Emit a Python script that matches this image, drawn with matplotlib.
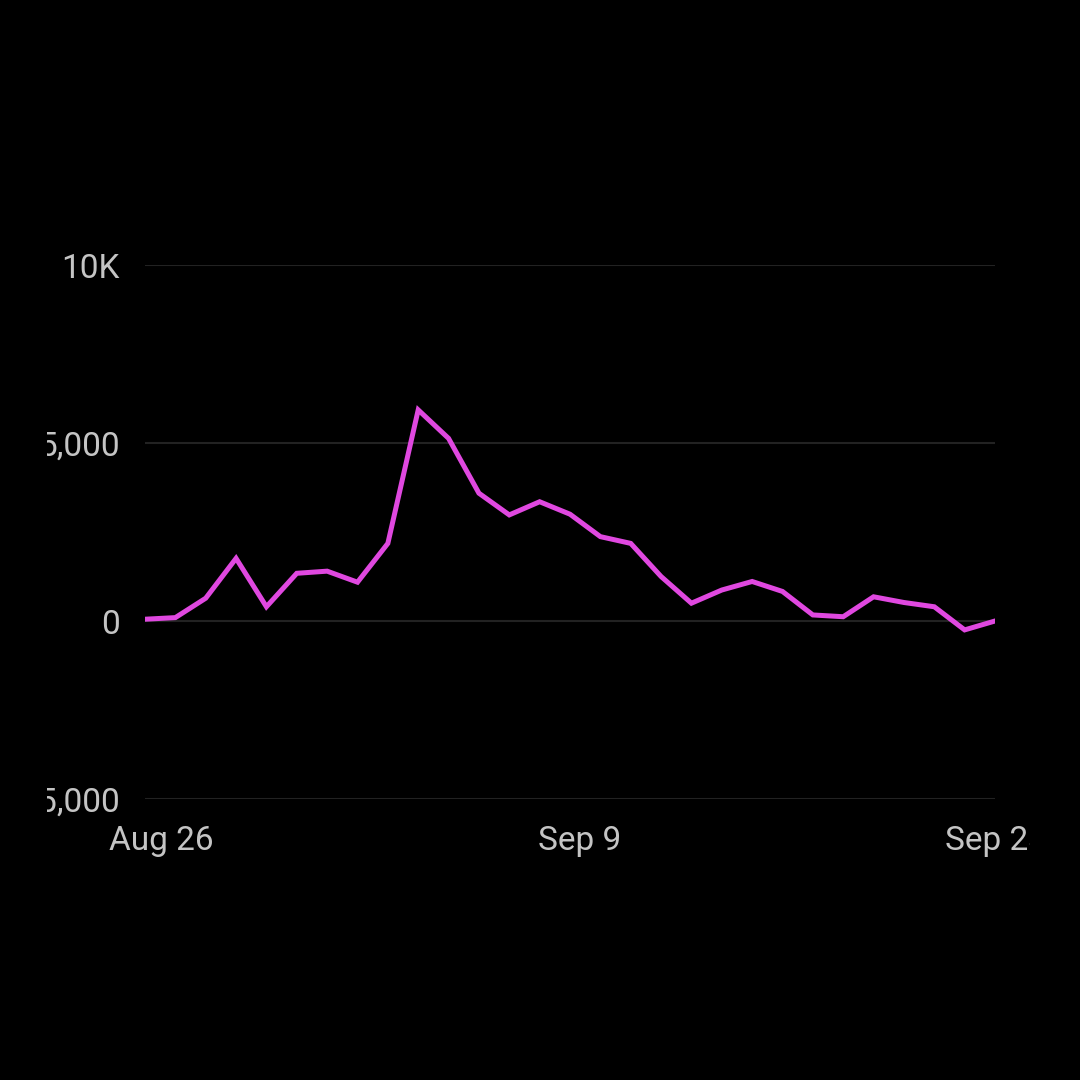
import numpy as np
import pandas as pd
import matplotlib
matplotlib.use("Agg")
import matplotlib.pyplot as plt
import matplotlib.dates as mdates
from matplotlib.ticker import FixedLocator, FuncFormatter
from matplotlib.transforms import Bbox, ScaledTranslation

# daily values, Aug 26 .. Sep 23
start = "2024-08-26"
values = [50, 95, 640, 1760, 400, 1340, 1400, 1090, 2180, 5930,
          5130, 3590, 2980, 3350, 3000, 2370, 2180, 1250, 500, 870,
          1110, 830, 170, 120, 680, 520, 400, -250, 0]
y_ticks = [-5000, 0, 5000, 10000]
x_tick_dates = ["2024-08-26", "2024-09-09", "2024-09-23"]

dates = pd.date_range(start, periods=len(values), freq="D")

BG = "black"
TXT = "#c4c4c4"
GRID = "#222222"
LINE = "#e048e0"

plt.rcParams["font.family"] = ["Roboto", "DejaVu Sans"]

fig = plt.figure(figsize=(10.8, 10.8), dpi=100, facecolor=BG)
ax = fig.add_axes([145/1080, 1 - 799/1080, (995 - 145)/1080, (799 - 265)/1080])
ax.set_facecolor(BG)

ax.plot(dates, values, color=LINE, lw=3.6, solid_joinstyle="miter", zorder=3)

ax.set_ylim(-5000, 10000)
ax.set_xlim(dates[0], dates[-1])
ax.yaxis.set_major_locator(FixedLocator(y_ticks))

def yfmt(v, _):
    if abs(v) >= 10000:
        return f"{int(v/1000)}K"
    return f"{int(v):,}".replace("-", "\u2212")

ax.yaxis.set_major_formatter(FuncFormatter(yfmt))
ax.set_xticks(pd.to_datetime(x_tick_dates))
ax.xaxis.set_major_formatter(mdates.DateFormatter("%b %-d"))

ax.grid(axis="y", color=GRID, lw=1.5, zorder=0)
for s in ax.spines.values():
    s.set_visible(False)
ax.tick_params(axis="both", length=0, colors=TXT, labelsize=24)
ax.tick_params(axis="y", pad=18)
ax.tick_params(axis="x", pad=19)

fig.canvas.draw()
# labels are nudged inward from their tick in the source (inches)
for t, dx in zip(ax.get_xticklabels(), [0.16, 0.10, 0.01]):
    t.set_transform(t.get_transform() + ScaledTranslation(dx, 0, fig.dpi_scale_trans))

# the source view was cropped at both sides, cutting some labels
clip = Bbox.from_extents(47, 0, 1030, 1080)
for t in ax.get_yticklabels() + ax.get_xticklabels():
    t.set_clip_box(clip)
    t.set_clip_on(True)

fig.savefig("out.png", dpi=100, facecolor=BG)
